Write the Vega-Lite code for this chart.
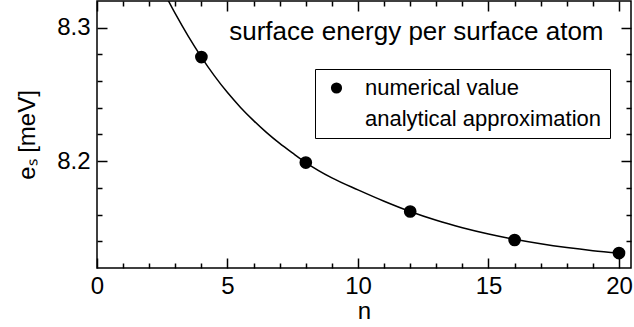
{
  "$schema": "https://vega.github.io/schema/vega-lite/v6.json",
  "width": 534,
  "height": 267,
  "autosize": {"type": "none"},
  "padding": {"left": 97, "top": 1, "right": 3, "bottom": 59},
  "background": "white",
  "config": {
    "view": {"stroke": "black", "strokeWidth": 1.5},
    "font": "Liberation Sans",
    "axis": {
      "labelFont": "Liberation Sans",
      "titleFont": "Liberation Sans",
      "labelColor": "black",
      "titleColor": "black",
      "tickColor": "black",
      "labelFontSize": 24,
      "titleFontSize": 24,
      "titleFontWeight": "normal",
      "domain": false,
      "grid": false,
      "labelFlush": false,
      "labelOverlap": false,
      "tickWidth": 1.5,
      "tickOpacity": 1,
      "ticks": true,
      "zindex": 2
    },
    "legend": {
      "labelFont": "Liberation Sans",
      "labelFontSize": 22,
      "labelColor": "black",
      "labelLimit": 0
    }
  },
  "datasets": {
    "numerical": [
      {"n": 4, "e": 8.278, "series": "numerical value"},
      {"n": 8, "e": 8.199, "series": "numerical value"},
      {"n": 12, "e": 8.1623, "series": "numerical value"},
      {"n": 16, "e": 8.141, "series": "numerical value"},
      {"n": 20, "e": 8.1312, "series": "numerical value"}
    ],
    "analytical": [
      {"n": 2.5, "e": 8.329},
      {"n": 3.0, "e": 8.3105},
      {"n": 3.5, "e": 8.2935},
      {"n": 4.0, "e": 8.278},
      {"n": 4.5, "e": 8.2639},
      {"n": 5.0, "e": 8.2514},
      {"n": 5.5, "e": 8.2403},
      {"n": 6.0, "e": 8.2304},
      {"n": 6.5, "e": 8.2214},
      {"n": 7.0, "e": 8.2133},
      {"n": 7.5, "e": 8.206},
      {"n": 8.0, "e": 8.199},
      {"n": 9.0, "e": 8.1875},
      {"n": 10.0, "e": 8.1785},
      {"n": 11.0, "e": 8.17},
      {"n": 12.0, "e": 8.1623},
      {"n": 13.0, "e": 8.1557},
      {"n": 14.0, "e": 8.1502},
      {"n": 15.0, "e": 8.1455},
      {"n": 16.0, "e": 8.1415},
      {"n": 17.0, "e": 8.1381},
      {"n": 18.0, "e": 8.1353},
      {"n": 19.0, "e": 8.133},
      {"n": 20.0, "e": 8.1312}
    ]
  },
  "layer": [
    {
      "data": {"name": "numerical"},
      "mark": {"type": "point", "filled": false, "fill": "black", "stroke": "black", "strokeWidth": 1.5, "fillOpacity": 1, "strokeOpacity": 1, "opacity": 1},
      "encoding": {
        "x": {
          "field": "n", "type": "quantitative",
          "scale": {"domain": [0, 20.46], "nice": false, "zero": false},
          "axis": {
            "orient": "bottom",
            "title": "n",
            "values": [0, 5, 10, 15, 20],
            "offset": -10,
            "tickSize": 10,
            "labelPadding": 6,
            "titlePadding": 1
          }
        },
        "y": {
          "field": "e", "type": "quantitative",
          "scale": {"domain": [8.12, 8.32], "nice": false, "zero": false},
          "axis": {
            "orient": "left",
            "title": "eₛ [meV]",
            "values": [8.2, 8.3],
            "format": ".1f",
            "offset": -10,
            "tickSize": 10,
            "labelPadding": 7,
            "titlePadding": 17
          }
        },
        "shape": {
          "field": "series", "type": "nominal",
          "scale": {"domain": ["numerical value", "analytical approximation"], "range": ["circle", "stroke"]},
          "legend": {
            "title": null,
            "orient": "none",
            "legendX": 218,
            "legendY": 68,
            "strokeColor": "black",
            "fillColor": "white",
            "padding": 8,
            "labelOffset": 15,
            "rowPadding": 6,
            "symbolFillColor": "black",
            "symbolStrokeColor": "black",
            "symbolStrokeWidth": 1.5
          }
        },
        "size": {
          "field": "series", "type": "nominal",
          "scale": {"type": "ordinal", "domain": ["numerical value", "analytical approximation"], "range": [125, 625]},
          "legend": {
            "title": null,
            "orient": "none",
            "legendX": 218,
            "legendY": 68,
            "strokeColor": "black",
            "fillColor": "white",
            "padding": 8,
            "labelOffset": 15,
            "rowPadding": 6,
            "symbolFillColor": "black",
            "symbolStrokeColor": "black",
            "symbolStrokeWidth": 1.5
          }
        }
      }
    },
    {
      "data": {"name": "analytical"},
      "mark": {"type": "line", "color": "black", "strokeWidth": 1.5, "interpolate": "monotone", "clip": true},
      "encoding": {
        "x": {
          "field": "n", "type": "quantitative",
          "axis": {
            "orient": "top",
            "title": "surface energy per surface atom",
            "titleFontSize": 26,
            "titleX": 506,
            "titleY": 28,
            "titleAlign": "right",
            "titleAnchor": null,
            "titleBaseline": "alphabetic",
            "labels": false,
            "values": [0, 5, 10, 15, 20],
            "offset": -10,
            "tickSize": 10
          }
        },
        "y": {
          "field": "e", "type": "quantitative",
          "axis": {
            "orient": "right",
            "title": null,
            "labels": false,
            "values": [8.2, 8.3],
            "offset": -10,
            "tickSize": 10
          }
        }
      }
    },
    {
      "data": {"name": "analytical"},
      "mark": {"type": "point", "opacity": 0},
      "encoding": {
        "x": {
          "field": "n", "type": "quantitative",
          "axis": {
            "orient": "bottom",
            "title": null,
            "labels": false,
            "values": [1, 2, 3, 4, 6, 7, 8, 9, 11, 12, 13, 14, 16, 17, 18, 19],
            "offset": -5,
            "tickSize": 5
          }
        },
        "y": {
          "field": "e", "type": "quantitative",
          "axis": {
            "orient": "left",
            "title": null,
            "labels": false,
            "values": [8.14, 8.16, 8.18, 8.22, 8.24, 8.26, 8.28],
            "offset": -5,
            "tickSize": 5
          }
        }
      }
    },
    {
      "data": {"name": "analytical"},
      "mark": {"type": "point", "opacity": 0},
      "encoding": {
        "x": {
          "field": "n", "type": "quantitative",
          "axis": {
            "orient": "top",
            "title": null,
            "labels": false,
            "values": [1, 2, 3, 4, 6, 7, 8, 9, 11, 12, 13, 14, 16, 17, 18, 19],
            "offset": -5,
            "tickSize": 5
          }
        },
        "y": {
          "field": "e", "type": "quantitative",
          "axis": {
            "orient": "right",
            "title": null,
            "labels": false,
            "values": [8.14, 8.16, 8.18, 8.22, 8.24, 8.26, 8.28],
            "offset": -5,
            "tickSize": 5
          }
        }
      }
    }
  ],
  "resolve": {"axis": {"x": "independent", "y": "independent"}}
}
